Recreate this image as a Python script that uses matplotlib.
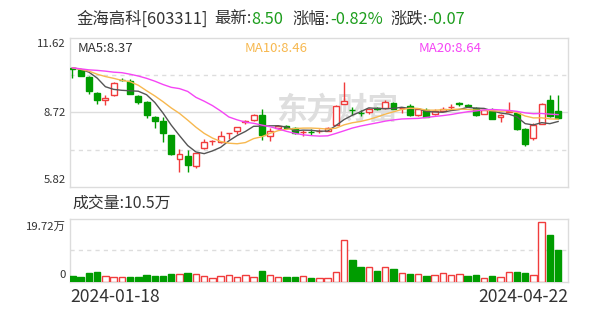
import matplotlib
matplotlib.use("Agg")
import matplotlib.pyplot as plt
import numpy as np
import pandas as pd

plt.rcParams['font.family'] = ['Noto Sans CJK SC', 'DejaVu Sans']

# daily candles, 2024-01-18 .. 2024-04-22 (60 trading days)
opens = [10.44, 10.38, 10.12, 9.48, 9.22, 9.42, 10.00, 9.94, 9.35, 9.13,
         8.53, 8.40, 7.84, 6.90, 7.03, 6.64, 7.33, 7.60, 7.57, 7.91,
         7.99, 8.34, 8.42, 8.64, 7.80, 8.10, 8.20, 8.10, 7.96, 7.98,
         7.99, 8.01, 8.23, 9.07, 8.82, 8.71, 8.74, 8.88, 8.90, 9.09,
         8.89, 8.96, 8.62, 8.81, 8.66, 8.78, 8.93, 9.10, 9.01, 8.90,
         8.68, 8.78, 8.53, 8.72, 8.70, 8.06, 7.71, 8.29, 9.22, 8.78]
highs = [10.46, 10.42, 10.14, 9.52, 9.40, 9.92, 10.07, 10.01, 9.42, 9.15,
         8.58, 8.55, 7.86, 7.29, 7.26, 7.16, 7.68, 7.65, 7.99, 7.94,
         8.16, 8.42, 8.68, 8.84, 8.10, 8.22, 8.22, 8.14, 8.04, 8.06,
         8.08, 8.16, 9.00, 9.90, 8.94, 8.80, 8.90, 8.94, 9.22, 9.13,
         8.94, 9.06, 8.88, 8.88, 8.84, 8.94, 9.06, 9.12, 9.06, 8.94,
         8.82, 8.88, 8.68, 9.13, 8.74, 8.10, 8.30, 9.10, 9.39, 9.39]
lows = [10.05, 10.14, 9.45, 9.04, 9.00, 9.35, 9.94, 9.43, 9.04, 8.49,
        8.10, 7.58, 7.08, 6.42, 6.42, 6.55, 7.29, 7.46, 7.52, 7.68,
        7.90, 8.26, 8.40, 7.65, 7.62, 8.08, 8.06, 7.88, 7.80, 7.86,
        7.92, 8.00, 8.23, 9.07, 8.62, 8.60, 8.68, 8.82, 8.87, 8.84,
        8.70, 8.60, 8.60, 8.54, 8.62, 8.76, 8.86, 8.98, 8.94, 8.60,
        8.66, 8.45, 8.36, 8.72, 8.04, 7.42, 7.65, 8.27, 8.55, 8.45]
closes = [10.40, 10.16, 9.54, 9.22, 9.30, 9.88, 9.98, 9.45, 9.13, 8.62,
          8.38, 7.91, 7.10, 7.10, 6.68, 7.13, 7.58, 7.63, 7.80, 7.94,
          8.16, 8.37, 8.64, 7.84, 7.99, 8.19, 8.10, 7.91, 7.98, 7.96,
          8.01, 8.12, 8.98, 9.16, 8.80, 8.69, 8.87, 8.86, 9.11, 8.87,
          8.91, 8.62, 8.84, 8.56, 8.77, 8.86, 8.95, 9.04, 8.98, 8.62,
          8.81, 8.47, 8.62, 8.77, 8.08, 7.49, 8.22, 9.07, 8.57, 8.50]
# volume in 万 shares
volumes = [1.9, 1.4, 2.8, 3.1, 1.8, 1.6, 1.4, 1.4, 1.4, 2.2,
           1.7, 1.7, 2.4, 2.4, 2.8, 2.4, 1.9, 1.1, 1.7, 2.1,
           1.5, 2.0, 1.5, 3.4, 2.3, 1.5, 1.5, 1.5, 1.8, 1.1,
           1.3, 1.3, 3.1, 13.6, 7.0, 4.8, 4.7, 3.4, 4.7, 4.0,
           2.8, 2.4, 2.4, 1.7, 2.2, 2.7, 2.1, 2.4, 1.7, 2.0,
           1.2, 1.7, 1.4, 3.3, 3.1, 2.8, 2.1, 19.72, 15.3, 10.5]
vol_up = [0, 0, 0, 0, 1, 1, 1, 0, 0, 0, 0, 0, 0, 1, 0, 1, 1, 1, 1, 1,
          1, 1, 1, 0, 1, 1, 0, 0, 1, 0, 1, 1, 1, 1, 0, 0, 1, 0, 1, 0,
          1, 0, 1, 0, 1, 1, 1, 1, 0, 0, 1, 0, 1, 1, 0, 0, 1, 1, 0, 0]
# moving averages before enough history is on screen
ma5_head = [10.46, 10.40, 10.29, 10.06]
ma10_head = [10.46, 10.40, 10.33, 10.21, 10.12, 10.05, 9.97, 9.92, 9.78]
ma20_head = [10.46, 10.42, 10.38, 10.36, 10.33, 10.29, 10.27, 10.21, 10.14, 10.05,
             9.94, 9.81, 9.70, 9.65, 9.54, 9.31, 9.16, 8.99, 8.78]

start_date = "2024-01-18"
end_date = "2024-04-22"

RED = "#f03c3c"
GREEN = "#009c00"
UPTXT = "#1e9e1e"
GRID = "#dddddd"
LABEL = "#333333"

W, H = 600, 313
fig = plt.figure(figsize=(6, 3.13), dpi=100)


def box(l, t, r, b):
    return [l / W, 1 - b / H, (r - l) / W, (b - t) / H]


def ftext(x, y, s, **kw):
    return fig.text(x / W, 1 - y / H, s, **kw)


ax = fig.add_axes(box(70, 38, 568, 187))
axv = fig.add_axes(box(70, 219, 568, 281.5))

x = np.arange(len(closes))
c = pd.Series(closes)


def ma(n, head):
    vals = c.rolling(n).mean().to_numpy()
    vals[:len(head)] = head
    return vals


ma5 = ma(5, ma5_head)
ma10 = ma(10, ma10_head)
ma20 = ma(20, ma20_head)

# price panel
for i in x:
    up = closes[i] >= opens[i]
    col = RED if up else GREEN
    ax.vlines(i, lows[i], highs[i], color=col, lw=1, zorder=2)
    bottom = min(opens[i], closes[i])
    h = max(abs(closes[i] - opens[i]), 0.015)
    ax.bar(i, h, bottom=bottom, width=0.72, facecolor="white" if up else col,
           edgecolor=col, lw=1, zorder=3)

ax.plot(x, ma5, color="#555555", lw=1, zorder=4)
ax.plot(x, ma10, color="#f7b84f", lw=1, zorder=4)
ax.plot(x, ma20, color="#f545f5", lw=1, zorder=4)

# watermark
ax.text(32.2, 8.85, "东方财富", fontsize=22, color="#dedede", fontweight="bold",
        ha="center", va="center", zorder=0.5)

ax.set_ylim(5.82, 11.62)
ax.set_xlim(-0.3, 60.2)
ax.axhline(8.72, color=GRID, lw=1, zorder=0)
for yv in (10.17, 7.27):
    ax.axhline(yv, color=GRID, lw=1, ls=(0, (3, 3)), zorder=0)

# volume panel
for i in x:
    col = RED if vol_up[i] else GREEN
    axv.bar(i, volumes[i], width=0.78, facecolor="white" if vol_up[i] else col,
            edgecolor=col, lw=1, zorder=3)
vmax = max(volumes)
axv.set_ylim(0, vmax * 1.05)
axv.set_xlim(-0.3, 60.2)
axv.axhline(vmax * 1.05 / 2, color=GRID, lw=1, ls=(0, (3, 3)), zorder=0)

for a in (ax, axv):
    a.set_xticks([])
    a.set_yticks([])
    for s in a.spines.values():
        s.set_color("#dcdcdc")
        s.set_linewidth(1)

# MA legend
ftext(78, 49, "MA5:%.2f" % ma5[-1], fontsize=9.5, color=LABEL, va="center")
ftext(245, 49, "MA10:%.2f" % ma10[-1], fontsize=9.5, color="#f7b84f", va="center")
ftext(419, 49, "MA20:%.2f" % ma20[-1], fontsize=9.5, color="#f545f5", va="center")

# axis labels
ftext(66, 44, "11.62", fontsize=8.2, color=LABEL, ha="right", va="center")
ftext(66, 113, "8.72", fontsize=8.2, color=LABEL, ha="right", va="center")
ftext(66, 180, "5.82", fontsize=8.2, color=LABEL, ha="right", va="center")
ftext(66, 227, "%.2f万" % vmax, fontsize=8.2, color=LABEL, ha="right", va="center")
ftext(66, 275, "0", fontsize=8.2, color=LABEL, ha="right", va="center")

# title row: label then value right after it
renderer = fig.canvas.get_renderer()
change = closes[-1] - closes[-2]
title_parts = [
    (76.5, "金海高科[603311]", None),
    (214, "最新:", "%.2f" % closes[-1]),
    (292.5, "涨幅:", "%.2f%%" % (change / closes[-2] * 100)),
    (390, "涨跌:", "%.2f" % change),
]
for x0, lab, val in title_parts:
    t = ftext(x0, 19, lab, fontsize=11.8, color=LABEL, va="center")
    if val is not None:
        x1 = t.get_window_extent(renderer).x1
        ftext(x1, 19, val, fontsize=11.8, color=UPTXT, va="center")

ftext(72, 203, "成交量:%.1f万" % volumes[-1], fontsize=11.4, color=LABEL, va="center")
ftext(70, 297, start_date, fontsize=12.6, color=LABEL, va="center")
ftext(568, 297, end_date, fontsize=12.6, color=LABEL, ha="right", va="center")

fig.savefig("out.png", dpi=100)
